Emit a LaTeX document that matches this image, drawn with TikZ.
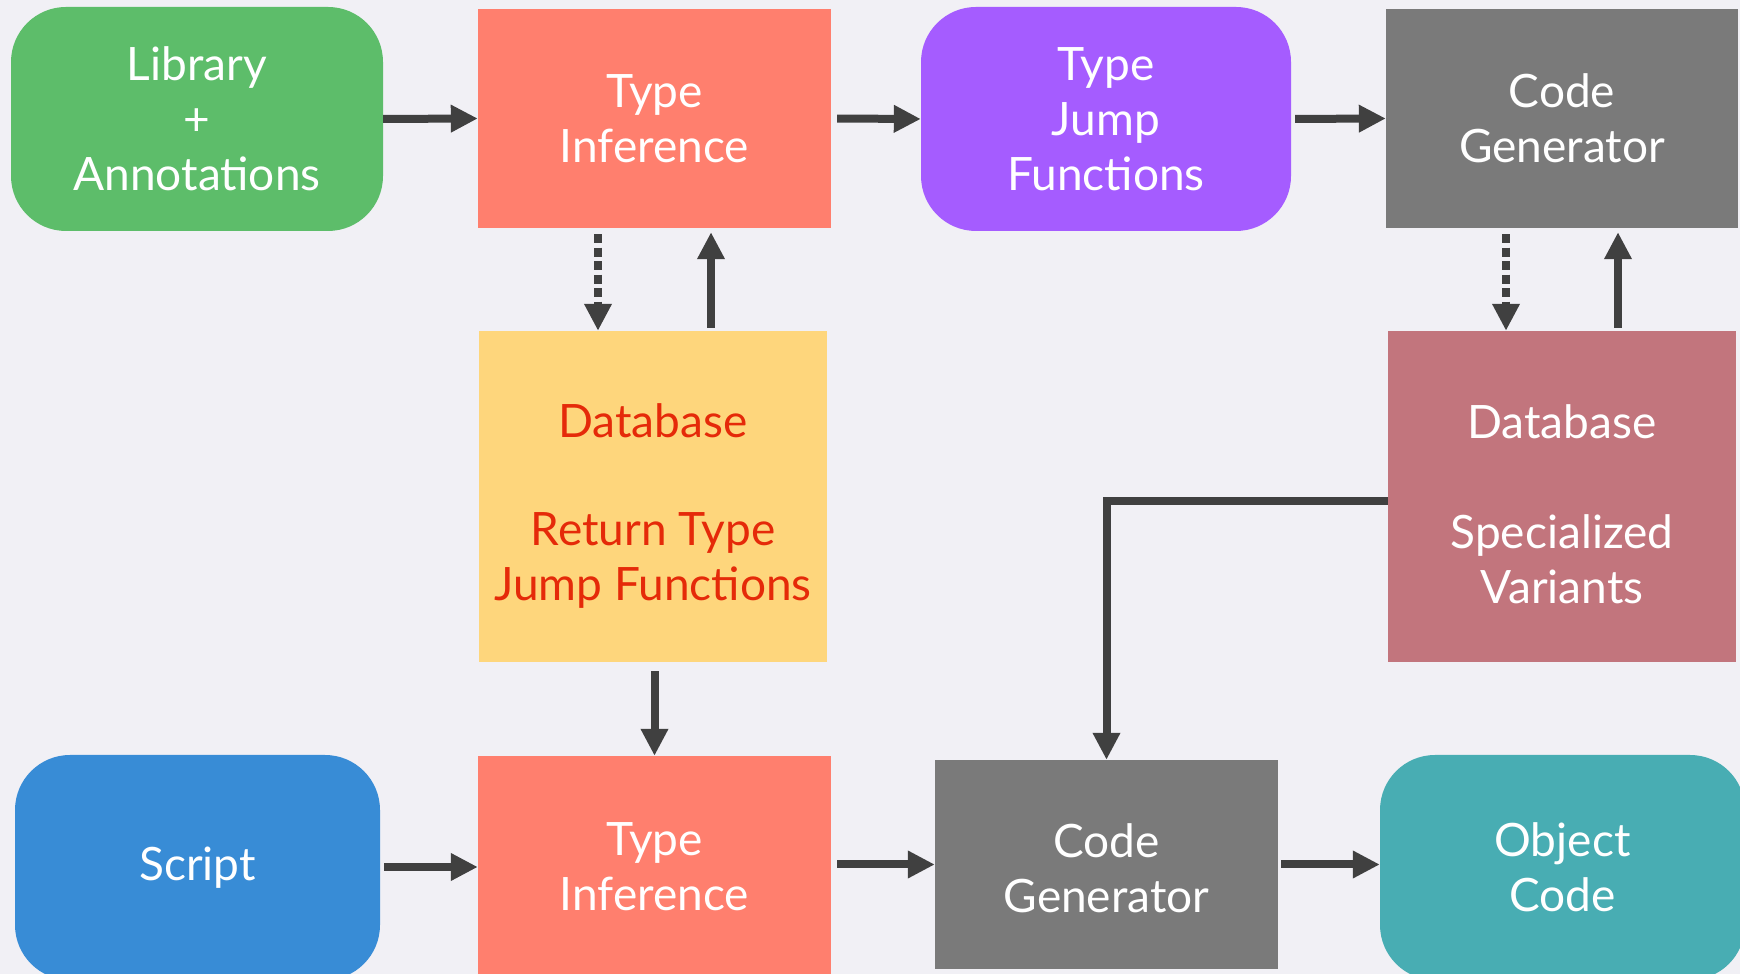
\documentclass[tikz,border=0pt]{standalone}
\usepackage{fontspec}
\setmainfont{Lato}
\usetikzlibrary{arrows.meta}
\definecolor{bgcol}{HTML}{F1F0F5}
\definecolor{libgreen}{HTML}{5DBD6A}
\definecolor{salmon}{HTML}{FF7F6E}
\definecolor{violet}{HTML}{A55CFF}
\definecolor{cggray}{HTML}{7A7A7A}
\definecolor{dbyellow}{HTML}{FED67C}
\definecolor{dbred}{HTML}{E52A09}
\definecolor{dbrose}{HTML}{C2757D}
\definecolor{scriptblue}{HTML}{388CD6}
\definecolor{objteal}{HTML}{48ADB3}
\definecolor{arrowgray}{HTML}{404040}
\newcommand{\toppad}[1]{\rule{0pt}{#1}}
\tikzset{
  box/.style={draw=none, inner sep=0pt, align=center, text=white,
    font=\fontsize{46}{55}\selectfont},
  pill/.style={box, rounded corners=55pt},
  arr/.style={draw=arrowgray, line width=8pt,
    -{Triangle[length=27pt,width=26pt]}},
  darr/.style={arr, dash pattern=on 9pt off 4.5pt}
}
\begin{document}
\begin{tikzpicture}[x=1pt,y=1pt]
\useasboundingbox (0,0) rectangle (1740,974);
\clip (0,0) rectangle (1740,974);
\fill[bgcol] (0,0) rectangle (1740,974);

% top row
\node[pill, fill=libgreen, minimum width=372pt, minimum height=224pt] (lib) at (197,855) {Library\\+\\Annotations};
\node[box, fill=salmon, minimum width=353pt, minimum height=219pt] (ti1) at (654.5,855.5) {Type\\Inference};
\node[pill, fill=violet, minimum width=370pt, minimum height=224pt] (tjf) at (1106,855) {Type\\Jump\\Functions};
\node[box, fill=cggray, minimum width=352pt, minimum height=219pt] (cg1) at (1562,855.5) {Code\\Generator};

% databases
\node[box, fill=dbyellow, text=dbred, minimum width=348pt, minimum height=331pt] (db1) at (653,477.5) {\toppad{53pt}Database\\[53pt]Return Type\\Jump Functions};
\node[box, fill=dbrose, minimum width=348pt, minimum height=331pt] (db2) at (1562,477.5) {\toppad{50pt}Database\\[55pt]Specialized\\Variants};

% bottom row
\node[pill, fill=scriptblue, minimum width=365pt, minimum height=225pt] (script) at (197.5,106.5) {Script};
\node[box, fill=salmon, minimum width=353pt, minimum height=222pt] (ti2) at (654.5,107) {Type\\Inference};
\node[box, fill=cggray, minimum width=343pt, minimum height=209pt] (cg2) at (1106.5,109.5) {\toppad{42pt}Code\\Generator};
\node[pill, fill=objteal, minimum width=365pt, minimum height=225pt] (oc) at (1562.5,106.5) {Object\\Code};

% columns of the vertical links
\coordinate (xa) at (598,0);
\coordinate (xb) at (711,0);
\coordinate (xc) at (1506,0);
\coordinate (xd) at (1618,0);

% top row flow
\draw[arr] (lib.east) -- (ti1.west);
\draw[arr, shorten <=6pt] (ti1.east) -- (tjf.west);
\draw[arr, shorten <=4pt] (tjf.east) -- (cg1.west);

% lookups and updates
\draw[darr, shorten <=6pt] (ti1.south -| xa) -- (db1.north -| xa);
\draw[arr, shorten <=3pt, shorten >=4pt] (db1.north -| xb) -- (ti1.south -| xb);
\draw[darr, shorten <=6pt] (cg1.south -| xc) -- (db2.north -| xc);
\draw[arr, shorten <=3pt, shorten >=4pt] (db2.north -| xd) -- (cg1.south -| xd);

% into the bottom row
\draw[arr, shorten <=9pt] (db1.south -| ti2.north) -- (ti2.north);
\draw[arr] ([yshift=-5pt]db2.west) -| (cg2.north);

% bottom row flow
\draw[arr, shorten <=4pt] (script.east |- ti2.west) -- (ti2.west);
\draw[arr, shorten <=6pt] (ti2.east |- cg2.west) -- (cg2.west);
\draw[arr, shorten <=3pt] (cg2.east) -- (oc.west |- cg2.east);
\end{tikzpicture}
\end{document}
